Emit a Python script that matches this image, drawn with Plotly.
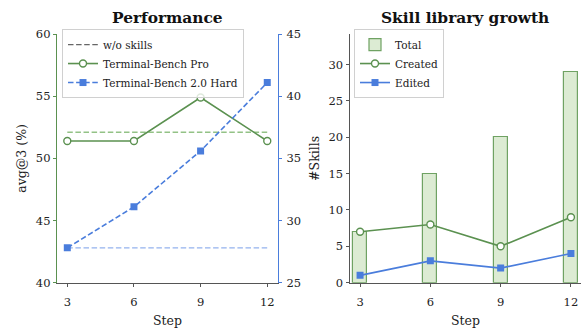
import plotly.graph_objects as go

# Training steps at which the agent was evaluated
steps = [3, 6, 9, 12]

# Performance (avg@3, %)
tb_pro = [51.4, 51.4, 54.9, 51.4]
tb_hard = [27.8, 31.1, 35.6, 41.1]
tb_pro_baseline = 52.1
tb_hard_baseline = 27.8

# Skill library growth
skills_total = [7, 15, 20, 29]
skills_created = [7, 8, 5, 9]
skills_edited = [1, 3, 2, 4]

GREEN = "#5b9150"
BLUE = "#4a7ddc"
LIGHT_GREEN = "#93c286"
LIGHT_BLUE = "#94b2ee"
BAR_FILL = "#dcebd3"
BAR_EDGE = "#6fa263"
AXIS_GRAY = "#555555"
TEXT = "#222222"
FONT = "DejaVu Serif"
DASH = "5.5px,2.6px"

W, H = 585, 334


def px_x(a, b):
    return [a / W, b / W]


def px_y(top, bottom):
    return [(H - bottom) / H, (H - top) / H]


fig = go.Figure()

# ---- Left panel: performance ----
fig.add_trace(go.Scatter(
    x=steps, y=[tb_pro_baseline] * len(steps), mode="lines",
    line=dict(color=LIGHT_GREEN, dash=DASH, width=1.4),
    xaxis="x", yaxis="y", showlegend=False, hoverinfo="skip"))
fig.add_trace(go.Scatter(
    x=steps, y=[tb_hard_baseline] * len(steps), mode="lines",
    line=dict(color=LIGHT_BLUE, dash=DASH, width=1.4),
    xaxis="x", yaxis="y2", showlegend=False, hoverinfo="skip"))
fig.add_trace(go.Scatter(
    x=[None], y=[None], mode="lines", name="w/o skills",
    line=dict(color="#666666", dash=DASH, width=1.2),
    xaxis="x", yaxis="y", legend="legend"))
fig.add_trace(go.Scatter(
    x=steps, y=tb_pro, mode="lines+markers", name="Terminal-Bench Pro",
    line=dict(color=GREEN, width=1.6),
    marker=dict(symbol="circle", size=7, color="white",
                line=dict(color=GREEN, width=1.4)),
    xaxis="x", yaxis="y", legend="legend"))
fig.add_trace(go.Scatter(
    x=steps, y=tb_hard, mode="lines+markers", name="Terminal-Bench 2.0 Hard",
    line=dict(color=BLUE, width=1.6, dash=DASH),
    marker=dict(symbol="square", size=7, color=BLUE),
    xaxis="x", yaxis="y2", legend="legend"))

# ---- Right panel: skill library ----
fig.add_trace(go.Bar(
    x=steps, y=skills_total, name="Total", width=0.6,
    marker=dict(color=BAR_FILL, line=dict(color=BAR_EDGE, width=1.2)),
    xaxis="x2", yaxis="y3", legend="legend2"))
fig.add_trace(go.Scatter(
    x=steps, y=skills_created, mode="lines+markers", name="Created",
    line=dict(color=GREEN, width=1.6),
    marker=dict(symbol="circle", size=7, color="white",
                line=dict(color=GREEN, width=1.4)),
    xaxis="x2", yaxis="y3", legend="legend2"))
fig.add_trace(go.Scatter(
    x=steps, y=skills_edited, mode="lines+markers", name="Edited",
    line=dict(color=BLUE, width=1.6),
    marker=dict(symbol="square", size=7, color=BLUE),
    xaxis="x2", yaxis="y3", legend="legend2"))

tickfont = dict(family=FONT, size=11.5, color=TEXT)
titlefont = dict(family=FONT, size=12.5, color=TEXT)

common_x = dict(
    tickvals=steps, showgrid=False, zeroline=False, showline=True,
    linecolor=AXIS_GRAY, linewidth=1, ticks="outside", ticklen=3.5,
    tickcolor=AXIS_GRAY, tickfont=tickfont, ticklabelstandoff=5,
    title=dict(text="Step", font=titlefont, standoff=8))

legend_style = dict(
    bgcolor="rgba(255,255,255,0.8)", bordercolor="#d0d0d0", borderwidth=1,
    font=dict(family=FONT, size=10.5, color=TEXT),
    xanchor="left", yanchor="top", itemwidth=30, tracegroupgap=0)

fig.update_layout(
    width=W, height=H, margin=dict(l=0, r=0, t=0, b=0),
    paper_bgcolor="white", plot_bgcolor="white",
    font=dict(family=FONT, color=TEXT),
    bargap=0,
    xaxis=dict(domain=px_x(57.3, 277.7), range=[2.55, 12.47],
               anchor="y", **common_x),
    yaxis=dict(domain=px_y(28.3, 287.7), range=[40, 60],
               tickvals=[40, 45, 50, 55, 60], showgrid=False, zeroline=False,
               showline=True, linecolor=GREEN, linewidth=1,
               ticks="outside", ticklen=3.5, tickcolor=GREEN,
               tickfont=tickfont,
               title=dict(text="avg@3 (%)", font=titlefont, standoff=6)),
    yaxis2=dict(overlaying="y", side="right", anchor="x", range=[25, 45],
                tickvals=[25, 30, 35, 40, 45], showgrid=False,
                zeroline=False, showline=True, linecolor=BLUE, linewidth=1,
                ticks="outside", ticklen=3.5, tickcolor=BLUE,
                tickfont=tickfont, ticklabelstandoff=2),
    xaxis2=dict(domain=px_x(350, 581), range=[2.57, 12.43],
                anchor="y3", **common_x),
    yaxis3=dict(domain=px_y(28.3, 287.7), range=[0, 34.2], anchor="x2",
                tickvals=[0, 5, 10, 15, 20, 25, 30], showgrid=False,
                zeroline=False, showline=True, linecolor=AXIS_GRAY,
                linewidth=1, ticks="outside", ticklen=3.5,
                tickcolor=AXIS_GRAY, tickfont=tickfont,
                title=dict(text="#Skills", font=titlefont, standoff=6)),
    legend=dict(x=62 / W, y=(H - 23) / H, **legend_style),
    legend2=dict(x=354 / W, y=(H - 23) / H, **legend_style),
    annotations=[
        dict(text="<b>Performance</b>", x=167 / W, y=(H - 12) / H,
             xref="paper", yref="paper", showarrow=False,
             xanchor="center", yanchor="middle",
             font=dict(family=FONT, size=15.4, color="#111111")),
        dict(text="<b>Skill library growth</b>", x=465 / W, y=(H - 12) / H,
             xref="paper", yref="paper", showarrow=False,
             xanchor="center", yanchor="middle",
             font=dict(family=FONT, size=15.4, color="#111111")),
    ],
)

fig.write_html("out.html")
